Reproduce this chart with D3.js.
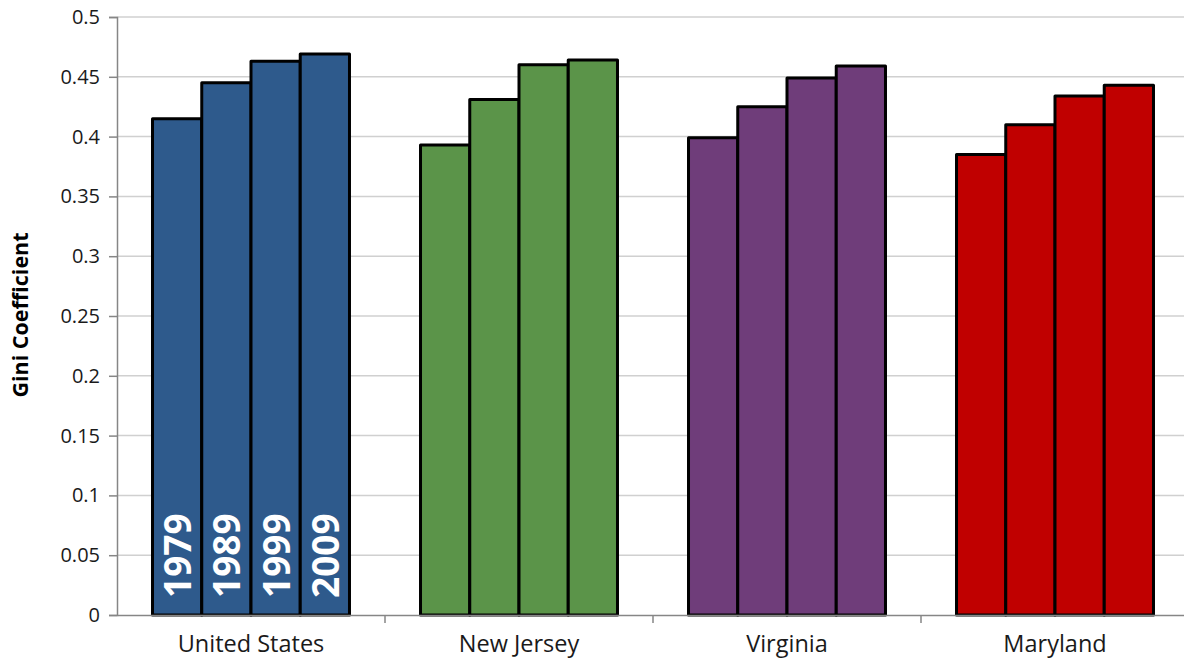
<!DOCTYPE html>
<html>
<head>
<meta charset="utf-8">
<script src="https://cdn.jsdelivr.net/npm/d3@7"></script>
<style>
  html, body { margin: 0; padding: 0; background: #fff; }
  svg { display: block; }
</style>
</head>
<body>
<svg id="chart" width="1184" height="665"></svg>
<script>
const categories = ["United States", "New Jersey", "Virginia", "Maryland"];
const years = ["1979", "1989", "1999", "2009"];
const values = {
  "United States": [0.415, 0.445, 0.463, 0.469],
  "New Jersey":    [0.393, 0.431, 0.460, 0.464],
  "Virginia":      [0.399, 0.425, 0.449, 0.459],
  "Maryland":      [0.385, 0.410, 0.434, 0.443]
};
const colors = ["#2E5A8C", "#5B9449", "#6F3D7A", "#C00000"];
const yTicks = [0, 0.05, 0.1, 0.15, 0.2, 0.25, 0.3, 0.35, 0.4, 0.45, 0.5];
const yTickLabels = ["0", "0.05", "0.1", "0.15", "0.2", "0.25", "0.3", "0.35", "0.4", "0.45", "0.5"];

const svg = d3.select("#chart");
const mLeft = 117, mRight = 1189, mTop = 17, mBottom = 615;

const x = d3.scaleBand().domain(categories).range([mLeft, mRight]).padding(0);
const xInner = d3.scaleBand().domain(years)
  .range([x.bandwidth() * 0.1325, x.bandwidth() * 0.8675]).padding(0);
const y = d3.scaleLinear().domain([0, 0.5]).range([mBottom, mTop]);

// gridlines
svg.append("g").selectAll("line").data(yTicks.filter(d => d > 0)).join("line")
  .attr("x1", mLeft).attr("x2", mRight)
  .attr("y1", d => y(d)).attr("y2", d => y(d))
  .attr("stroke", "#D0D0D0").attr("stroke-width", 1.5);

// y axis
const yAxis = d3.axisLeft(y).tickValues(yTicks)
  .tickFormat((d, i) => yTickLabels[i]).tickSize(8).tickPadding(9);
const gy = svg.append("g").attr("transform", `translate(${mLeft},0)`).call(yAxis);
gy.select(".domain").attr("stroke", "#868686").attr("stroke-width", 1.5);
gy.selectAll(".tick line").attr("stroke", "#868686").attr("stroke-width", 1.5);
gy.selectAll(".tick text").attr("font-family", "Open Sans").attr("font-size", 20)
  .attr("fill", "#1a1a1a");

// bars
const groups = svg.append("g").selectAll("g").data(categories).join("g")
  .attr("transform", d => `translate(${x(d)},0)`);
groups.each(function(cat, ci) {
  const g = d3.select(this);
  g.selectAll("rect").data(values[cat].map((v, i) => ({ v, year: years[i] }))).join("rect")
    .attr("x", d => xInner(d.year))
    .attr("width", xInner.bandwidth())
    .attr("y", d => y(d.v))
    .attr("height", d => y(0) - y(d.v))
    .attr("fill", colors[ci])
    .attr("stroke", "#000").attr("stroke-width", 3)
    .attr("stroke-linejoin", "round");
  if (ci === 0) {
    g.selectAll("text.yr").data(years).join("text")
      .attr("class", "yr")
      .attr("transform", d => `translate(${xInner(d) + xInner.bandwidth() / 2 + 14},${y(0) - 17}) rotate(-90)`)
      .attr("font-family", "Open Sans").attr("font-weight", "bold")
      .attr("font-size", 37).attr("fill", "#fff")
      .text(d => d);
  }
});

// x axis
const xAxis = d3.axisBottom(x).tickSize(0).tickPadding(20);
const gx = svg.append("g").attr("transform", `translate(0,${mBottom})`).call(xAxis);
gx.select(".domain").attr("stroke", "#868686").attr("stroke-width", 1.5);
gx.selectAll(".tick text").attr("font-family", "Open Sans").attr("font-size", 23.5)
  .attr("fill", "#1a1a1a");
// category boundary ticks
svg.append("g").selectAll("line").data(categories.slice(1)).join("line")
  .attr("x1", d => x(d)).attr("x2", d => x(d))
  .attr("y1", mBottom).attr("y2", mBottom + 8)
  .attr("stroke", "#868686").attr("stroke-width", 1.5);

// y title
svg.append("text")
  .attr("transform", `translate(28,315) rotate(-90)`)
  .attr("text-anchor", "middle")
  .attr("font-family", "Open Sans").attr("font-weight", "bold")
  .attr("font-size", 21.5).attr("fill", "#000")
  .text("Gini Coefficient");
</script>
</body>
</html>
